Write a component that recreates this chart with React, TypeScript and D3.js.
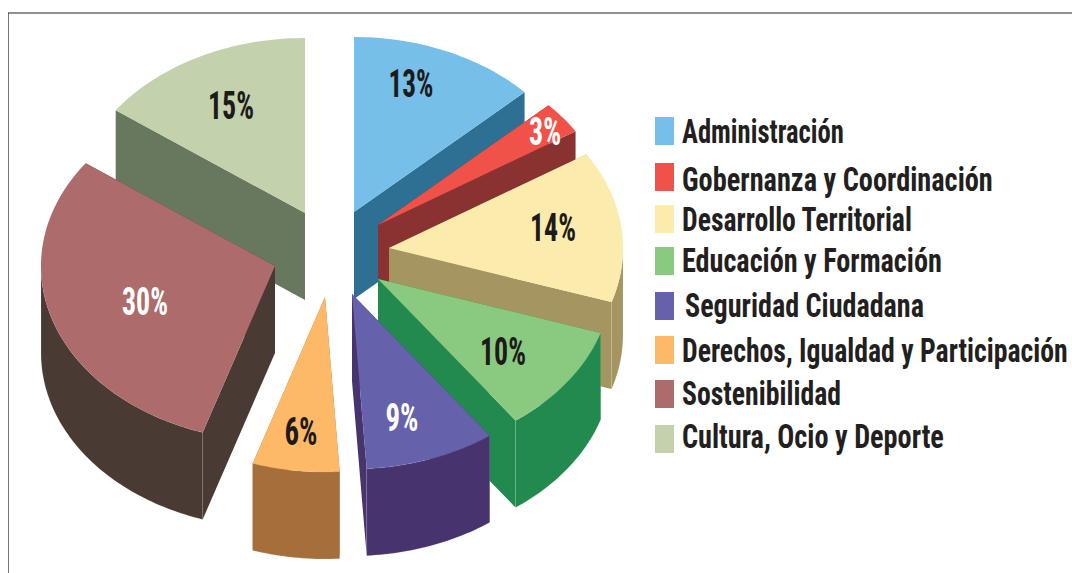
import React, { useLayoutEffect, useRef } from "react";
import * as d3 from "d3";

// ---- data ----
const categories = [
  "Administración",
  "Gobernanza y Coordinación",
  "Desarrollo Territorial",
  "Educación y Formación",
  "Seguridad Ciudadana",
  "Derechos, Igualdad y Participación",
  "Sostenibilidad",
  "Cultura, Ocio y Deporte",
];
const shares = [13, 3, 14, 10, 9, 6, 30, 15];
const topColors = ["#75bfe9", "#f0524a", "#fbecae", "#8aca80", "#6561aa", "#fdb968", "#ad6b6b", "#c3d1ac"];
const sideColors = ["#2e7093", "#8a3232", "#a59560", "#238a4f", "#47346f", "#a56e3b", "#4a3a34", "#68785f"];
const labelColors = ["#1d1a1a", "#ffffff", "#1d1a1a", "#1d1a1a", "#ffffff", "#1d1a1a", "#ffffff", "#1d1a1a"];

// ---- layout ----
const W = 1072;
const H = 573;
const RX = 234;
const RY = 175;
const DEPTH = 87;
const apexX = [354, 378, 389, 378, 352, 325, 275, 305];
const apexY = [212, 225, 248, 279, 294, 297, 266, 213];
const labelX = [411, 545, 553, 503, 402, 301, 145, 231];
const labelY = [97, 145, 241, 365, 431, 445, 315, 119];
const labelW = [45, 32, 46, 46, 33, 33, 46, 46];
const drawOrder = [7, 0, 1, 2, 3, 6, 4, 5];
const legendSwatchY = [117, 163, 205, 247, 292, 336, 380, 425];
const legendBaseY = [143, 191, 231, 272, 317, 362, 405, 448];
const legendTextX = [682, 682, 682, 682, 685, 682, 682, 682];
const legendTextW = [162, 311, 230, 260, 239, 386, 159, 262];

const pie = d3.pie<number>().sort(null).value((d) => d);
const arcs = pie(shares);

const HALF = Math.PI / 2;
const line = d3.line<[number, number]>();

function rim(i: number, a0: number, a1: number, dy: number): [number, number][] {
  const steps = Math.max(2, Math.ceil((a1 - a0) / 0.02));
  return d3.range(steps + 1).map((k) => {
    const a = a0 + ((a1 - a0) * k) / steps;
    return [apexX[i] + RX * Math.sin(a), apexY[i] + dy - RY * Math.cos(a)] as [number, number];
  });
}

function topPath(i: number): string {
  const p = rim(i, arcs[i].startAngle, arcs[i].endAngle, 0);
  return line([[apexX[i], apexY[i]], ...p]) + "Z";
}

function edgeWall(i: number, a: number): string {
  const [e] = rim(i, a, a, 0);
  return (
    line([
      [apexX[i], apexY[i]],
      e,
      [e[0], e[1] + DEPTH],
      [apexX[i], apexY[i] + DEPTH],
    ]) + "Z"
  );
}

function outerWall(i: number): string | null {
  const a0 = Math.max(arcs[i].startAngle, HALF);
  const a1 = Math.min(arcs[i].endAngle, 3 * HALF);
  if (a1 <= a0) return null;
  const upper = rim(i, a0, a1, 0);
  const lower = rim(i, a0, a1, DEPTH).reverse();
  return line([...upper, ...lower]) + "Z";
}

const FONT = "'Liberation Sans Narrow', 'Roboto Condensed', 'DejaVu Sans Condensed', sans-serif";

// Text squeezed horizontally to a target width, measured after mount.
function FitText(props: {
  x: number;
  y: number;
  width: number;
  size: number;
  fill: string;
  anchor?: string;
  children: string;
}) {
  const ref = useRef<SVGTextElement>(null);
  useLayoutEffect(() => {
    const el = ref.current;
    if (!el) return;
    const natural = el.getComputedTextLength();
    const k = natural > 0 ? props.width / natural : 1;
    el.setAttribute("transform", `translate(${props.x},${props.y}) scale(${k},1)`);
  });
  return (
    <text
      ref={ref}
      transform={`translate(${props.x},${props.y})`}
      textAnchor={props.anchor ?? "start"}
      fontFamily={FONT}
      fontWeight={700}
      fontSize={props.size}
      fill={props.fill}
    >
      {props.children}
    </text>
  );
}

export default function App() {
  return (
    <svg
      width={W}
      height={H}
      viewBox={`0 0 ${W} ${H}`}
      style={{ position: "absolute", left: 0, top: 0, display: "block", background: "#fff" }}
    >
      <line x1={8.5} y1={13} x2={8.5} y2={H} stroke="#777" strokeWidth={1} />
      <line x1={8} y1={13} x2={W} y2={13} stroke="#222" strokeWidth={1} />

      {drawOrder.map((i) => {
        const wall = outerWall(i);
        return (
          <g key={categories[i]}>
            <path d={edgeWall(i, arcs[i].startAngle)} fill={sideColors[i]} />
            <path d={edgeWall(i, arcs[i].endAngle)} fill={sideColors[i]} />
            {wall && <path d={wall} fill={sideColors[i]} stroke="#fff" strokeOpacity={0.2} strokeWidth={0.6} />}
            <path d={topPath(i)} fill={topColors[i]} />
          </g>
        );
      })}

      {shares.map((s, i) => (
        <FitText
          key={categories[i]}
          x={labelX[i]}
          y={labelY[i]}
          width={labelW[i]}
          size={38}
          fill={labelColors[i]}
          anchor="middle"
        >
          {`${s}%`}
        </FitText>
      ))}

      {categories.map((c, i) => (
        <g key={c}>
          <rect x={655} y={legendSwatchY[i]} width={19} height={28} fill={topColors[i]} />
          <FitText x={legendTextX[i]} y={legendBaseY[i]} width={legendTextW[i]} size={34} fill="#231f20">
            {c}
          </FitText>
        </g>
      ))}
    </svg>
  );
}
